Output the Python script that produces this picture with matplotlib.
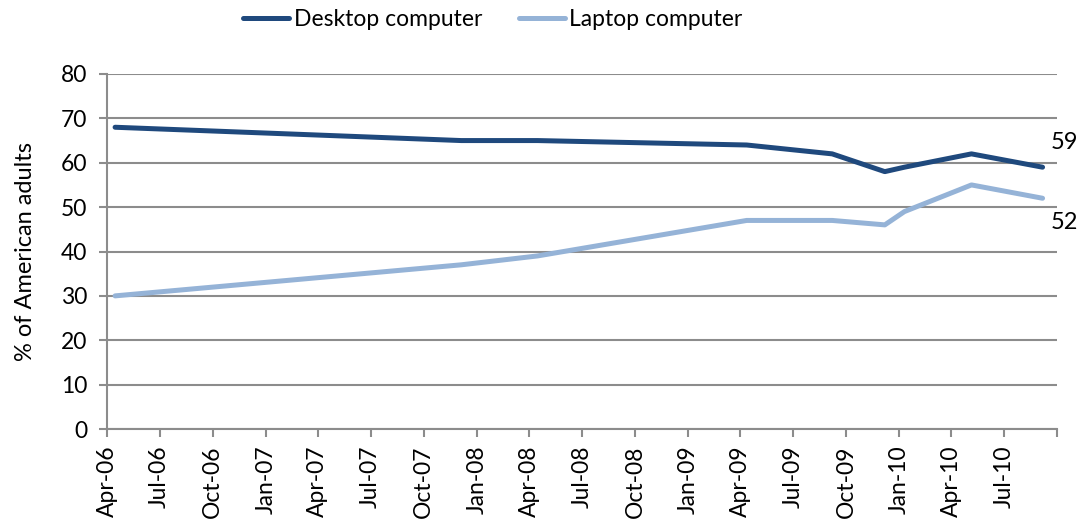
import datetime as dt

import matplotlib
matplotlib.use("Agg")
import matplotlib.pyplot as plt
import matplotlib.dates as mdates

plt.rcParams['font.family'] = ['Lato', 'DejaVu Sans']

# Data
survey_dates = [dt.date(2006, 4, 15), dt.date(2007, 12, 5), dt.date(2008, 4, 15),
                dt.date(2009, 4, 12), dt.date(2009, 9, 7), dt.date(2009, 12, 7),
                dt.date(2010, 1, 10), dt.date(2010, 5, 6), dt.date(2010, 9, 6)]
desktop = [68, 65, 65, 64, 62, 58, 59, 62, 59]
laptop = [30, 37, 39, 47, 47, 46, 49, 55, 52]

DESKTOP_COLOR = '#1F497D'
LAPTOP_COLOR = '#95B3D7'
GRID_COLOR = '#8C8C8C'

fig = plt.figure(figsize=(10.81, 5.27), dpi=100)
ax = fig.add_axes([107 / 1081, 1 - 429 / 527, (1057 - 107) / 1081, (429 - 74) / 527])

ax.plot(survey_dates, desktop, color=DESKTOP_COLOR, lw=3.6, solid_capstyle='round',
        label='Desktop computer', zorder=3)
ax.plot(survey_dates, laptop, color=LAPTOP_COLOR, lw=3.6, solid_capstyle='round',
        label='Laptop computer', zorder=3)

# end labels
ax.annotate(str(desktop[-1]), (survey_dates[-1], desktop[-1]), xytext=(6, 10),
            textcoords='offset points', fontsize=17, ha='left', va='bottom',
            annotation_clip=False)
ax.annotate(str(laptop[-1]), (survey_dates[-1], laptop[-1]), xytext=(6, -10),
            textcoords='offset points', fontsize=17, ha='left', va='top',
            annotation_clip=False)

ax.set_ylim(0, 80)
ax.set_yticks(range(0, 81, 10))
ax.set_xlim(dt.date(2006, 4, 1), dt.date(2010, 10, 1))
ax.xaxis.set_major_locator(mdates.MonthLocator(bymonth=[1, 4, 7, 10]))


# no label for Oct-10 at the right edge
def fmt(x, pos):
    d = mdates.num2date(x)
    if d.year == 2010 and d.month == 10:
        return ''
    return d.strftime('%b-%y')


ax.xaxis.set_major_formatter(plt.FuncFormatter(fmt))
ax.tick_params(axis='x', labelrotation=90)

ax.grid(axis='y', color=GRID_COLOR, lw=1.5)
ax.set_axisbelow(True)
for side in ['top', 'right']:
    ax.spines[side].set_visible(False)
for side in ['left', 'bottom']:
    ax.spines[side].set_color(GRID_COLOR)
    ax.spines[side].set_linewidth(1.5)
ax.tick_params(axis='both', colors=GRID_COLOR, labelcolor='black', labelsize=16.5,
               width=1.5, length=6)
ax.tick_params(axis='x', pad=6)
ax.tick_params(axis='y', pad=8)

ax.set_ylabel('% of American adults', fontsize=17, labelpad=18)

fig.legend(loc='center', bbox_to_anchor=(0.456, 1 - 20 / 527), ncol=2, frameon=False,
           fontsize=16.5, handlelength=2.0, handletextpad=0.2, columnspacing=1.6)

fig.savefig('out.png', dpi=100)
